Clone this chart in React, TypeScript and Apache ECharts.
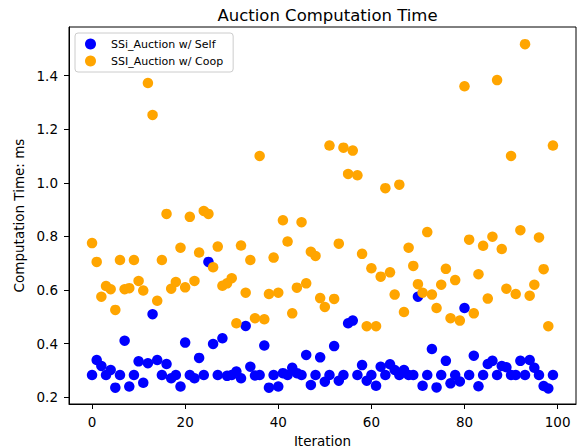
import React, { useEffect, useRef } from "react";
import * as echarts from "echarts";

const TITLE = "Auction Computation Time";
const SERIES_SELF = "SSi_Auction w/ Self";
const SERIES_COOP = "SSI_Auction w/ Coop";
const X_LABEL = "Iteration";
const Y_LABEL = "Computation Time: ms";

const xTicks = [0, 20, 40, 60, 80, 100];
const yTicks = [0.2, 0.4, 0.6, 0.8, 1.0, 1.2, 1.4];

const selfTimes = [
  0.283, 0.339, 0.317, 0.283, 0.302, 0.236, 0.283, 0.411, 0.24, 0.283,
  0.334, 0.254, 0.327, 0.51, 0.339, 0.283, 0.324, 0.271, 0.283, 0.24,
  0.404, 0.283, 0.271, 0.347, 0.283, 0.705, 0.399, 0.283, 0.42, 0.28,
  0.283, 0.296, 0.271, 0.466, 0.314, 0.281, 0.283, 0.393, 0.236, 0.283,
  0.24, 0.29, 0.283, 0.31, 0.29, 0.283, 0.358, 0.246, 0.283, 0.349,
  0.258, 0.283, 0.391, 0.262, 0.283, 0.476, 0.486, 0.283, 0.32, 0.262,
  0.283, 0.243, 0.314, 0.283, 0.323, 0.302, 0.283, 0.302, 0.283, 0.283,
  0.575, 0.243, 0.283, 0.38, 0.237, 0.283, 0.336, 0.252, 0.283, 0.259,
  0.533, 0.283, 0.355, 0.241, 0.283, 0.324, 0.336, 0.283, 0.317, 0.312,
  0.283, 0.283, 0.336, 0.283, 0.339, 0.31, 0.283, 0.242, 0.233, 0.283,
];

const coopTimes = [
  0.775, 0.705, 0.575, 0.615, 0.603, 0.526, 0.712, 0.603, 0.607, 0.712,
  0.634, 0.598, 1.372, 1.253, 0.56, 0.712, 0.884, 0.605, 0.63, 0.758,
  0.61, 0.873, 0.634, 0.74, 0.895, 0.884, 0.685, 0.762, 0.616, 0.625,
  0.644, 0.476, 0.766, 0.59, 0.712, 0.495, 1.1, 0.491, 0.585, 0.721,
  0.59, 0.86, 0.781, 0.513, 0.609, 0.853, 0.625, 0.743, 0.727, 0.57,
  0.537, 1.139, 0.567, 0.773, 1.131, 1.033, 1.12, 1.028, 0.735, 0.465,
  0.681, 0.465, 0.65, 0.98, 0.666, 0.583, 0.993, 0.518, 0.758, 0.69,
  0.622, 0.59, 0.816, 0.583, 0.533, 0.62, 0.679, 0.495, 0.637, 0.486,
  1.36, 0.788, 0.513, 0.659, 0.765, 0.568, 0.799, 1.383, 0.753, 0.605,
  1.1, 0.585, 0.823, 1.517, 0.579, 0.62, 0.796, 0.678, 0.465, 1.139,
];

const FONT = "DejaVu Sans";

export default function App() {
  const ref = useRef<HTMLDivElement>(null);

  useEffect(() => {
    if (!ref.current) return;
    const chart = echarts.init(ref.current, null, { renderer: "svg" });
    const selfData = selfTimes.map((v, i) => [i, v]);
    const coopData = coopTimes.map((v, i) => [i, v]);
    chart.setOption({
      animation: false,
      backgroundColor: "#ffffff",
      textStyle: { fontFamily: FONT },
      title: {
        text: TITLE,
        left: 322.5,
        textAlign: "center",
        top: 2,
        textStyle: { fontFamily: FONT, fontSize: 16.5, fontWeight: "normal", color: "#000" },
      },
      legend: {
        orient: "vertical",
        left: 75,
        top: 33,
        padding: [5, 10, 5, 10],
        itemGap: 5,
        itemWidth: 11,
        itemHeight: 11,
        icon: "circle",
        borderColor: "#cccccc",
        borderWidth: 1,
        borderRadius: 3,
        backgroundColor: "rgba(255,255,255,0.8)",
        textStyle: { fontFamily: FONT, fontSize: 11, color: "#000", padding: [0, 0, 0, 10], lineHeight: 12 },
        data: [SERIES_SELF, SERIES_COOP],
      },
      grid: {
        left: 69,
        right: 6,
        top: 27,
        bottom: 44,
        containLabel: false,
        outerBoundsMode: "none",
        show: true,
        borderColor: "#000",
        borderWidth: 1,
        backgroundColor: "transparent",
      },
      xAxis: {
        type: "value",
        min: -4.95,
        max: 103.95,
        name: X_LABEL,
        nameLocation: "middle",
        nameGap: 30,
        nameTextStyle: { fontFamily: FONT, fontSize: 13.5, lineHeight: 13, color: "#000" },
        axisLine: { show: true, onZero: false, lineStyle: { color: "#000", width: 1 } },
        axisTick: { show: true, length: 5, customValues: xTicks, lineStyle: { color: "#000" } },
        axisLabel: { customValues: xTicks, margin: 11, fontFamily: FONT, fontSize: 13.5, color: "#000" },
        splitLine: { show: false },
      },
      yAxis: {
        type: "value",
        min: 0.175,
        max: 1.581,
        name: Y_LABEL,
        nameLocation: "middle",
        nameGap: 38,
        nameTextStyle: { fontFamily: FONT, fontSize: 13.5, color: "#000" },
        axisLine: { show: true, onZero: false, lineStyle: { color: "#000", width: 1 } },
        axisTick: { show: true, length: 5, customValues: yTicks, lineStyle: { color: "#000" } },
        axisLabel: {
          customValues: yTicks,
          margin: 11,
          fontFamily: FONT,
          fontSize: 13.5,
          color: "#000",
          formatter: (v: number) => v.toFixed(1),
        },
        splitLine: { show: false },
      },
      series: [
        {
          name: SERIES_SELF,
          type: "scatter",
          data: selfData,
          symbol: "circle",
          symbolSize: 10.5,
          itemStyle: { color: "#0000ff", opacity: 1 },
          emphasis: { disabled: true },
        },
        {
          name: SERIES_COOP,
          type: "scatter",
          data: coopData,
          symbol: "circle",
          symbolSize: 10.5,
          itemStyle: { color: "#ffa500", opacity: 1 },
          emphasis: { disabled: true },
        },
      ],
    });
    return () => chart.dispose();
  }, []);

  return (
    <div
      ref={ref}
      style={{ position: "fixed", left: 0, top: 0, width: 582, height: 448, background: "#fff" }}
    />
  );
}
